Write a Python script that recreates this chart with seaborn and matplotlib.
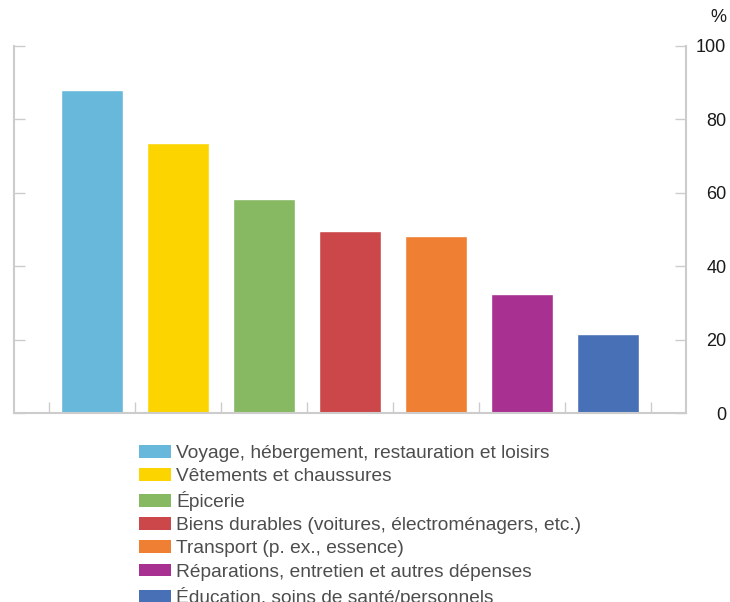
import matplotlib
matplotlib.use("Agg")
import matplotlib.pyplot as plt
from matplotlib.patches import Patch
import seaborn as sns
import pandas as pd

categories = [
    "Voyage, hébergement, restauration et loisirs",
    "Vêtements et chaussures",
    "Épicerie",
    "Biens durables (voitures, électroménagers, etc.)",
    "Transport (p. ex., essence)",
    "Réparations, entretien et autres dépenses",
    "Éducation, soins de santé/personnels",
]
values = [87.9, 73.7, 58.4, 49.7, 48.1, 32.5, 21.6]
colors = ["#68b8dc", "#fcd500", "#87b862", "#cc4749", "#ee7f33", "#a83090", "#4870b7"]
yticks = [0, 20, 40, 60, 80, 100]

sns.set_style("white")
plt.rcParams["font.family"] = ["Liberation Sans", "DejaVu Sans"]

df = pd.DataFrame({"cat": categories, "val": values})

fig = plt.figure(figsize=(7.30, 6.02), dpi=100)
W, H = 730, 602
ax = fig.add_axes([14 / W, 1 - 413 / H, (686 - 14) / W, (413 - 46) / H])

sns.barplot(data=df, x="cat", y="val", hue="cat", palette=colors,
            width=0.72, legend=False, ax=ax, saturation=1)

ax.set_xlim(-0.907, 6.907)
ax.set_ylim(0, 100)
ax.set_xlabel("")
ax.set_ylabel("")

grey = "#cccccc"
for s in ["left", "right", "bottom"]:
    ax.spines[s].set_visible(True)
    ax.spines[s].set_color(grey)
    ax.spines[s].set_linewidth(1.5)
ax.spines["top"].set_visible(False)

ax.set_xticks([i - 0.5 for i in range(len(categories) + 1)])
ax.set_xticklabels([""] * (len(categories) + 1))
ax.tick_params(axis="x", bottom=True, direction="in", length=8, width=1, color=grey)

ax.set_yticks(yticks)
ax.set_yticklabels([str(t) for t in yticks])
ax.tick_params(axis="y", left=True, right=True, labelleft=False, labelright=True,
               direction="in", length=8, width=1, color=grey,
               labelsize=13, labelcolor="#1a1a1a", pad=29)
for lab in ax.get_yticklabels():
    lab.set_horizontalalignment("right")

fig.text(726 / W, 1 - 18 / H, "%", ha="right", va="center", fontsize=13, color="#1a1a1a")

handles = [Patch(facecolor=c, edgecolor="none") for c in colors]
leg = fig.legend(handles, categories, loc="upper left",
                 bbox_to_anchor=(139 / W, 1 - 445 / H), bbox_transform=fig.transFigure,
                 frameon=False, fontsize=13.75, handlelength=1.68, handleheight=0.63,
                 handletextpad=0.26, labelspacing=0.32, borderpad=0, borderaxespad=0)
for t in leg.get_texts():
    t.set_color("#4d4d4d")

fig.savefig("out.png", dpi=100)
